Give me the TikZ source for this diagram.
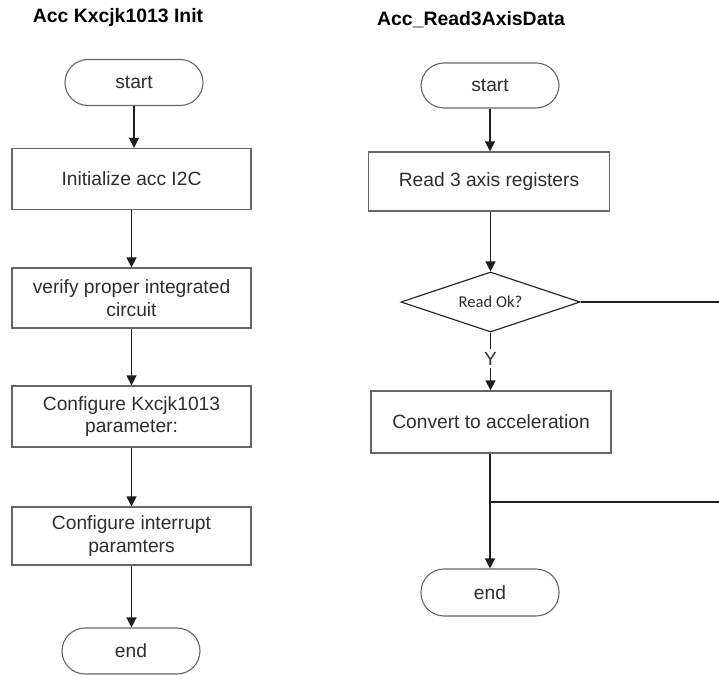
\documentclass[tikz,border=0pt]{standalone}
\usepackage{fontspec}
\setmainfont{Liberation Sans}
\newfontfamily\calib{Carlito}
\usetikzlibrary{shapes.geometric,arrows.meta}
\definecolor{txt}{HTML}{2E2E2E}
\definecolor{brd}{HTML}{666666}
\definecolor{lin}{HTML}{1E1E1E}
\begin{document}
\begin{tikzpicture}[x=1pt,y=-1pt,
  every node/.style={text=txt},
  procbox/.style={draw=brd,line width=1.3pt,minimum width=239pt,minimum height=61pt,inner sep=2pt,align=center,font=\fontsize{19.2}{22.5}\selectfont},
  term/.style={draw=brd,line width=1.1pt,minimum width=138pt,minimum height=46pt,rounded corners=23pt,inner sep=0pt,font=\fontsize{19.2}{22}\selectfont},
  decis/.style={draw=lin,line width=1.1pt,diamond,aspect=3,minimum width=179pt,minimum height=60pt,inner sep=0pt,font=\calib\fontsize{16.6}{18}\selectfont},
  ttl/.style={font=\bfseries\fontsize{19.4}{22}\selectfont,text=black},
  arr/.style={draw=lin,line width=1.3pt,-{Triangle[width=10pt,length=10pt]}},
  conn/.style={draw=lin,line width=1.3pt}
]
\useasboundingbox[fill=white] (0,0) rectangle (719,674);

% Left flowchart
\node[ttl] (t1) at (118,17) {Acc Kxcjk1013 Init};
\node[term] (s1) at (134,82.5) {start};
\node[procbox] (b1) at (131.5,179) {Initialize acc I2C};
\node[procbox,minimum height=60pt] (b2) at (131.5,298) {verify proper integrated\\circuit};
\node[procbox] (b3) at (131.5,416.5) {Configure Kxcjk1013\\parameter:};
\node[procbox,minimum height=58pt] (b4) at (131.5,536) {Configure interrupt\\paramters};
\node[term] (e1) at (131,651) {end};

\draw[arr] (s1.south) -- (s1.south |- b1.north);
\draw[arr] (b1.south) -- (b2.north);
\draw[arr] (b2.south) -- (b3.north);
\draw[arr] (b3.south) -- (b4.north);
\draw[arr] (b4.south) -- (b4.south |- e1.north);

% Right flowchart
\node[ttl] (t2) at (471,20) {Acc\_Read3AxisData};
\node[term,minimum height=45pt] (s2) at (490,85.5) {start};
\node[procbox,minimum width=241pt,minimum height=59pt] (r1) at (489,181.5) {Read 3 axis registers};
\node[decis] (d1) at (490.5,302) {Read Ok?};
\node[procbox,minimum width=240pt,minimum height=62pt] (r2) at (491,422) {Convert to acceleration};
\node[term,minimum height=47pt] (e2) at (490,592.5) {end};

\coordinate (x1) at (719,302);
\coordinate (j1) at (490,502);
\coordinate (x2) at (719,502);

\draw[arr] (s2.south) -- (s2.south |- r1.north);
\draw[arr] (r1.south -| d1.north) -- (d1.north);
\draw[conn] (d1.east) -- (x1);
\draw[arr] (d1.south) -- node[pos=0.45,fill=white,inner sep=3pt,font=\fontsize{19}{20}\selectfont] (y1) {Y} (d1.south |- r2.north);
\draw[arr] (r2.south -| e2.north) -- (e2.north);
\draw[conn] (j1) -- (x2);
\end{tikzpicture}
\end{document}
